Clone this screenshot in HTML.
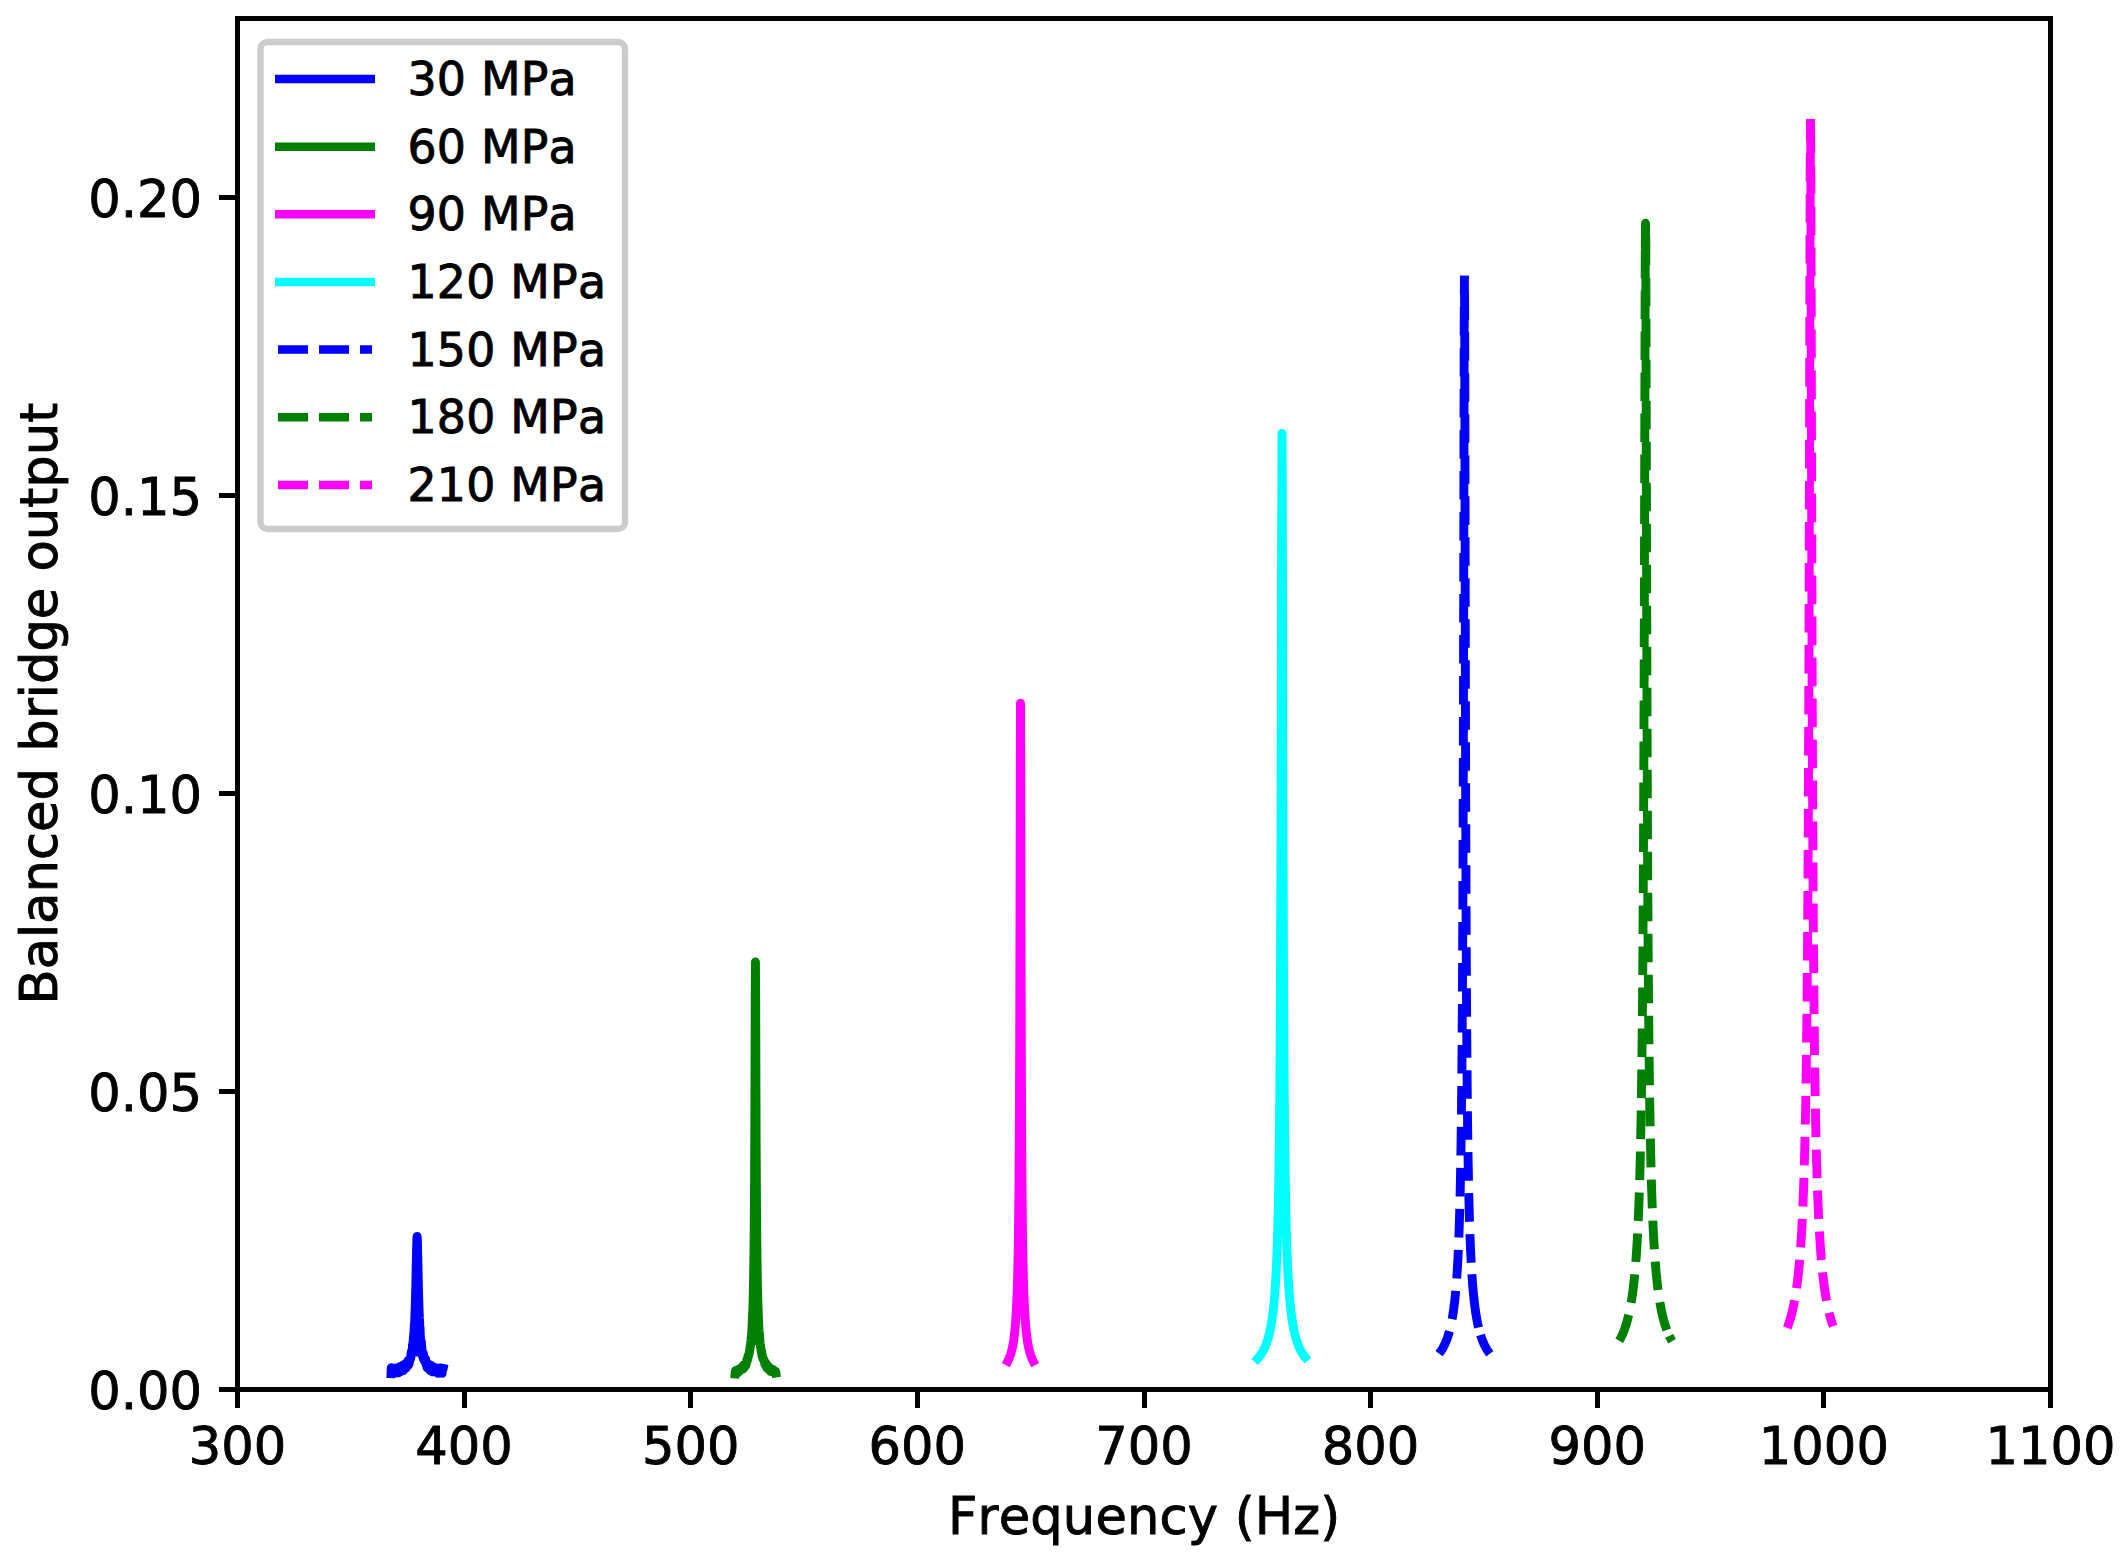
<!DOCTYPE html>
<html lang="en"><head><meta charset="utf-8"><title>Balanced bridge output vs frequency</title>
<style>html,body{margin:0;padding:0;background:#fff;}svg{display:block;}text{font-family:"DejaVu Sans", "Liberation Sans", sans-serif;fill:#000;font-kerning:none;font-variant-ligatures:none;stroke:#000;stroke-width:0.9px;}</style></head><body>
<svg width="2125" height="1561" viewBox="0 0 2125 1561">
<rect x="0" y="0" width="2125" height="1561" fill="#ffffff"/>
<g fill="none" stroke-width="8.90" stroke-linejoin="round">
<path d="M391.04,1373.69 L391.27,1367.78 L391.49,1367.98 L391.72,1371.25 L391.94,1370.97 L392.17,1373.13 L392.40,1369.98 L392.62,1370.34 L392.85,1370.07 L393.08,1371.65 L393.30,1371.17 L393.53,1373.54 L393.76,1369.27 L393.98,1371.84 L394.21,1368.96 L394.44,1368.17 L394.66,1372.18 L394.89,1368.12 L395.12,1372.15 L395.34,1368.69 L395.57,1373.13 L395.80,1371.67 L396.02,1368.56 L396.25,1372.65 L396.48,1369.71 L396.70,1368.53 L396.93,1368.12 L397.16,1369.67 L397.38,1368.30 L397.61,1369.63 L397.84,1372.43 L398.06,1368.15 L398.29,1372.50 L398.52,1372.67 L398.74,1372.40 L398.97,1369.63 L399.20,1370.13 L399.42,1370.28 L399.65,1371.96 L399.88,1366.43 L400.10,1369.61 L400.33,1370.18 L400.56,1367.41 L400.78,1368.85 L401.01,1367.61 L401.24,1367.79 L401.46,1369.29 L401.69,1367.70 L401.92,1368.90 L402.14,1369.61 L402.37,1366.13 L402.60,1365.25 L402.82,1368.21 L403.05,1370.68 L403.28,1369.32 L403.50,1370.32 L403.73,1365.04 L403.96,1364.88 L404.18,1364.31 L404.41,1365.28 L404.64,1368.18 L404.86,1364.87 L405.09,1364.59 L405.32,1365.98 L405.54,1368.23 L405.77,1365.67 L406.00,1368.12 L406.22,1367.97 L406.45,1366.61 L406.68,1362.46 L406.90,1366.23 L407.13,1362.73 L407.36,1364.10 L407.58,1363.22 L407.81,1360.92 L408.04,1365.24 L408.26,1360.24 L408.49,1364.89 L408.72,1361.90 L408.94,1361.33 L409.17,1363.51 L409.40,1362.14 L409.62,1360.93 L409.85,1360.22 L410.07,1358.81 L410.30,1358.66 L410.53,1358.06 L410.75,1358.63 L410.98,1353.42 L411.21,1354.29 L411.43,1351.39 L411.66,1352.00 L411.89,1350.51 L412.11,1352.94 L412.34,1347.27 L412.57,1344.45 L412.79,1344.72 L413.02,1343.13 L413.25,1339.62 L413.47,1337.86 L413.70,1333.90 L413.93,1336.98 L414.15,1328.49 L414.38,1323.47 L414.61,1323.38 L414.83,1317.26 L415.06,1311.50 L415.29,1304.86 L415.51,1297.20 L415.74,1288.44 L415.97,1278.55 L416.19,1267.76 L416.42,1256.68 L416.65,1246.55 L416.87,1239.20 L417.10,1236.48 L417.33,1239.20 L417.55,1246.55 L417.78,1256.68 L418.01,1267.76 L418.23,1278.55 L418.46,1288.44 L418.69,1297.20 L418.91,1304.86 L419.14,1311.50 L419.37,1317.26 L419.59,1320.71 L419.82,1327.23 L420.05,1327.60 L420.27,1334.13 L420.50,1339.62 L420.73,1340.32 L420.95,1342.28 L421.18,1341.12 L421.41,1342.70 L421.63,1347.17 L421.86,1347.41 L422.09,1351.44 L422.31,1351.18 L422.54,1356.11 L422.77,1357.06 L422.99,1354.71 L423.22,1358.56 L423.45,1353.62 L423.67,1358.05 L423.90,1356.45 L424.13,1358.16 L424.35,1360.60 L424.58,1361.03 L424.81,1360.35 L425.03,1359.92 L425.26,1360.84 L425.49,1362.65 L425.71,1359.49 L425.94,1364.27 L426.17,1361.59 L426.39,1365.36 L426.62,1364.66 L426.85,1366.98 L427.07,1365.19 L427.30,1367.94 L427.53,1363.74 L427.75,1368.31 L427.98,1363.62 L428.20,1367.92 L428.43,1367.19 L428.66,1365.98 L428.88,1366.97 L429.11,1364.78 L429.34,1369.35 L429.56,1369.36 L429.79,1369.07 L430.02,1367.39 L430.24,1370.63 L430.47,1367.40 L430.70,1365.87 L430.92,1370.51 L431.15,1365.35 L431.38,1366.11 L431.60,1366.21 L431.83,1371.40 L432.06,1366.70 L432.28,1368.35 L432.51,1370.16 L432.74,1371.92 L432.96,1368.13 L433.19,1368.06 L433.42,1370.19 L433.64,1368.35 L433.87,1371.90 L434.10,1367.41 L434.32,1368.85 L434.55,1368.72 L434.78,1368.30 L435.00,1368.46 L435.23,1367.55 L435.46,1370.13 L435.68,1368.38 L435.91,1368.50 L436.14,1368.51 L436.36,1368.52 L436.59,1369.53 L436.82,1371.89 L437.04,1370.22 L437.27,1368.11 L437.50,1372.54 L437.72,1369.73 L437.95,1373.32 L438.18,1369.48 L438.40,1373.25 L438.63,1372.97 L438.86,1370.06 L439.08,1368.26 L439.31,1368.98 L439.54,1373.01 L439.76,1372.86 L439.99,1370.20 L440.22,1370.54 L440.44,1370.94 L440.67,1370.23 L440.90,1368.61 L441.12,1371.88 L441.35,1372.85 L441.58,1370.61 L441.80,1372.20 L442.03,1373.30 L442.26,1370.41 L442.48,1368.52 L442.71,1368.87 L442.94,1369.58 L443.16,1368.51" stroke="#0000ff" stroke-linecap="square"/>
<line x1="417.10" y1="1335.0" x2="417.10" y2="1356.5" stroke="#0000ff" stroke-width="5.0"/>
<path d="M735.06,1374.01 L735.28,1371.51 L735.51,1372.81 L735.74,1370.33 L735.96,1372.11 L736.19,1372.57 L736.41,1373.35 L736.64,1370.99 L736.87,1371.41 L737.09,1372.89 L737.32,1371.81 L737.55,1370.70 L737.77,1372.60 L738.00,1370.71 L738.23,1369.53 L738.45,1371.99 L738.68,1370.22 L738.91,1369.30 L739.13,1370.96 L739.36,1371.53 L739.59,1370.89 L739.81,1370.51 L740.04,1370.23 L740.27,1369.89 L740.49,1369.76 L740.72,1368.06 L740.95,1368.55 L741.17,1367.82 L741.40,1368.87 L741.63,1367.25 L741.85,1369.13 L742.08,1367.91 L742.31,1367.51 L742.53,1368.90 L742.76,1366.57 L742.99,1369.07 L743.21,1368.20 L743.44,1367.62 L743.67,1365.94 L743.89,1364.77 L744.12,1367.13 L744.35,1366.72 L744.57,1367.24 L744.80,1364.32 L745.03,1364.95 L745.25,1363.58 L745.48,1364.45 L745.71,1365.47 L745.93,1363.69 L746.16,1362.64 L746.39,1363.37 L746.61,1362.41 L746.84,1359.77 L747.07,1359.21 L747.29,1360.49 L747.52,1359.97 L747.75,1358.54 L747.97,1356.16 L748.20,1357.29 L748.43,1355.36 L748.65,1355.46 L748.88,1354.35 L749.11,1354.22 L749.33,1351.84 L749.56,1352.01 L749.79,1348.68 L750.01,1348.63 L750.24,1345.57 L750.47,1345.68 L750.69,1342.37 L750.92,1340.90 L751.15,1337.39 L751.37,1336.42 L751.60,1334.31 L751.83,1330.54 L752.05,1327.42 L752.28,1320.81 L752.51,1316.25 L752.73,1311.82 L752.96,1306.26 L753.19,1296.67 L753.41,1287.11 L753.64,1275.36 L753.87,1260.64 L754.09,1241.75 L754.32,1216.85 L754.54,1183.10 L754.77,1136.42 L755.00,1073.00 L755.22,1000.23 L755.45,961.95 L755.68,1000.23 L755.90,1073.00 L756.13,1136.42 L756.36,1183.10 L756.58,1216.85 L756.81,1241.75 L757.04,1260.64 L757.26,1275.36 L757.49,1287.11 L757.72,1296.67 L757.94,1304.22 L758.17,1310.13 L758.40,1317.31 L758.62,1322.66 L758.85,1326.72 L759.08,1331.08 L759.30,1333.32 L759.53,1335.78 L759.76,1339.31 L759.98,1342.12 L760.21,1344.07 L760.44,1345.56 L760.66,1346.68 L760.89,1348.88 L761.12,1351.26 L761.34,1350.57 L761.57,1350.86 L761.80,1355.05 L762.02,1356.15 L762.25,1354.81 L762.48,1356.13 L762.70,1357.69 L762.93,1358.61 L763.16,1358.97 L763.38,1359.45 L763.61,1359.09 L763.84,1360.18 L764.06,1360.40 L764.29,1360.52 L764.52,1362.14 L764.74,1364.06 L764.97,1363.82 L765.20,1363.19 L765.42,1362.62 L765.65,1362.89 L765.88,1366.10 L766.10,1363.77 L766.33,1364.76 L766.56,1366.61 L766.78,1367.83 L767.01,1366.87 L767.24,1365.17 L767.46,1366.56 L767.69,1368.71 L767.92,1368.42 L768.14,1367.68 L768.37,1367.60 L768.60,1369.06 L768.82,1367.04 L769.05,1369.26 L769.28,1368.16 L769.50,1367.85 L769.73,1368.51 L769.96,1368.98 L770.18,1371.14 L770.41,1368.97 L770.64,1370.26 L770.86,1371.55 L771.09,1368.92 L771.32,1368.82 L771.54,1369.10 L771.77,1371.68 L772.00,1369.89 L772.22,1369.07 L772.45,1370.84 L772.67,1369.75 L772.90,1371.96 L773.13,1369.75 L773.35,1371.32 L773.58,1370.73 L773.81,1370.89 L774.03,1372.38 L774.26,1370.84 L774.49,1371.17 L774.71,1373.23 L774.94,1372.86 L775.17,1372.62 L775.39,1372.08 L775.62,1371.19 L775.85,1372.89" stroke="#008000" stroke-linecap="square"/>
<line x1="755.45" y1="1335.0" x2="755.45" y2="1345.0" stroke="#008000" stroke-width="3.0"/>
<path d="M1007.80,1361.16 L1008.02,1360.73 L1008.25,1360.29 L1008.48,1359.83 L1008.70,1359.35 L1008.93,1358.85 L1009.16,1358.33 L1009.38,1357.79 L1009.61,1357.22 L1009.84,1356.63 L1010.06,1356.01 L1010.29,1355.36 L1010.52,1354.68 L1010.74,1353.97 L1010.97,1353.22 L1011.20,1352.43 L1011.42,1351.60 L1011.65,1350.72 L1011.88,1349.80 L1012.10,1348.83 L1012.33,1347.80 L1012.56,1346.71 L1012.78,1345.55 L1013.01,1344.32 L1013.24,1343.01 L1013.46,1341.61 L1013.69,1340.12 L1013.92,1338.52 L1014.14,1336.81 L1014.37,1334.97 L1014.60,1332.98 L1014.82,1330.83 L1015.05,1328.51 L1015.28,1325.97 L1015.50,1323.21 L1015.73,1320.18 L1015.96,1316.85 L1016.18,1313.18 L1016.41,1309.09 L1016.64,1304.53 L1016.86,1299.41 L1017.09,1293.61 L1017.32,1287.01 L1017.54,1279.42 L1017.77,1270.61 L1018.00,1260.26 L1018.22,1247.96 L1018.45,1233.11 L1018.68,1214.86 L1018.90,1191.95 L1019.13,1162.49 L1019.36,1123.50 L1019.58,1070.29 L1019.81,995.79 L1020.04,892.43 L1020.26,769.81 L1020.49,703.16 L1020.72,769.81 L1020.94,892.43 L1021.17,995.79 L1021.40,1070.29 L1021.62,1123.50 L1021.85,1162.49 L1022.08,1191.95 L1022.30,1214.86 L1022.53,1233.11 L1022.76,1247.96 L1022.98,1260.26 L1023.21,1270.61 L1023.44,1279.42 L1023.66,1287.01 L1023.89,1293.61 L1024.12,1299.41 L1024.34,1304.53 L1024.57,1309.09 L1024.80,1313.18 L1025.02,1316.85 L1025.25,1320.18 L1025.48,1323.21 L1025.70,1325.97 L1025.93,1328.51 L1026.15,1330.83 L1026.38,1332.98 L1026.61,1334.97 L1026.83,1336.81 L1027.06,1338.52 L1027.29,1340.12 L1027.51,1341.61 L1027.74,1343.01 L1027.97,1344.32 L1028.19,1345.55 L1028.42,1346.71 L1028.65,1347.80 L1028.87,1348.83 L1029.10,1349.80 L1029.33,1350.72 L1029.55,1351.60 L1029.78,1352.43 L1030.01,1353.22 L1030.23,1353.97 L1030.46,1354.68 L1030.69,1355.36 L1030.91,1356.01 L1031.14,1356.63 L1031.37,1357.22 L1031.59,1357.79 L1031.82,1358.33 L1032.05,1358.85 L1032.27,1359.35 L1032.50,1359.83 L1032.73,1360.29 L1032.95,1360.73 L1033.18,1361.16" stroke="#ff00ff" stroke-linecap="square"/>
<path d="M1257.54,1358.78 L1257.77,1358.53 L1257.99,1358.29 L1258.22,1358.03 L1258.45,1357.77 L1258.67,1357.51 L1258.90,1357.24 L1259.13,1356.96 L1259.35,1356.68 L1259.58,1356.39 L1259.81,1356.10 L1260.03,1355.80 L1260.26,1355.49 L1260.49,1355.18 L1260.71,1354.86 L1260.94,1354.53 L1261.17,1354.19 L1261.39,1353.85 L1261.62,1353.50 L1261.85,1353.14 L1262.07,1352.77 L1262.30,1352.39 L1262.52,1352.01 L1262.75,1351.61 L1262.98,1351.20 L1263.20,1350.79 L1263.43,1350.36 L1263.66,1349.92 L1263.88,1349.47 L1264.11,1349.01 L1264.34,1348.54 L1264.56,1348.05 L1264.79,1347.55 L1265.02,1347.04 L1265.24,1346.51 L1265.47,1345.97 L1265.70,1345.41 L1265.92,1344.83 L1266.15,1344.24 L1266.38,1343.63 L1266.60,1343.01 L1266.83,1342.36 L1267.06,1341.69 L1267.28,1341.00 L1267.51,1340.29 L1267.74,1339.56 L1267.96,1338.80 L1268.19,1338.02 L1268.42,1337.21 L1268.64,1336.37 L1268.87,1335.50 L1269.10,1334.60 L1269.32,1333.67 L1269.55,1332.70 L1269.78,1331.70 L1270.00,1330.66 L1270.23,1329.58 L1270.46,1328.46 L1270.68,1327.29 L1270.91,1326.07 L1271.14,1324.80 L1271.36,1323.47 L1271.59,1322.09 L1271.82,1320.65 L1272.04,1319.14 L1272.27,1317.55 L1272.50,1315.90 L1272.72,1314.16 L1272.95,1312.33 L1273.18,1310.41 L1273.40,1308.39 L1273.63,1306.26 L1273.86,1304.02 L1274.08,1301.64 L1274.31,1299.13 L1274.54,1296.46 L1274.76,1293.63 L1274.99,1290.61 L1275.22,1287.40 L1275.44,1283.97 L1275.67,1280.29 L1275.90,1276.35 L1276.12,1272.11 L1276.35,1267.53 L1276.58,1262.58 L1276.80,1257.22 L1277.03,1251.37 L1277.26,1244.99 L1277.48,1237.98 L1277.71,1230.27 L1277.94,1221.74 L1278.16,1212.24 L1278.39,1201.63 L1278.62,1189.68 L1278.84,1176.14 L1279.07,1160.68 L1279.30,1142.88 L1279.52,1122.18 L1279.75,1097.88 L1279.97,1068.99 L1280.20,1034.23 L1280.43,991.84 L1280.65,939.44 L1280.88,874.00 L1281.11,792.15 L1281.33,691.93 L1281.56,578.69 L1281.79,476.90 L1282.01,433.38 L1282.24,476.90 L1282.47,578.69 L1282.69,691.93 L1282.92,792.15 L1283.15,874.00 L1283.37,939.44 L1283.60,991.84 L1283.83,1034.23 L1284.05,1068.99 L1284.28,1097.88 L1284.51,1122.18 L1284.73,1142.88 L1284.96,1160.68 L1285.19,1176.14 L1285.41,1189.68 L1285.64,1201.63 L1285.87,1212.24 L1286.09,1221.74 L1286.32,1230.27 L1286.55,1237.98 L1286.77,1244.99 L1287.00,1251.37 L1287.23,1257.22 L1287.45,1262.58 L1287.68,1267.53 L1287.91,1272.11 L1288.13,1276.35 L1288.36,1280.29 L1288.59,1283.97 L1288.81,1287.40 L1289.04,1290.61 L1289.27,1293.63 L1289.49,1296.46 L1289.72,1299.13 L1289.95,1301.64 L1290.17,1304.02 L1290.40,1306.26 L1290.63,1308.39 L1290.85,1310.41 L1291.08,1312.33 L1291.31,1314.16 L1291.53,1315.90 L1291.76,1317.55 L1291.99,1319.14 L1292.21,1320.65 L1292.44,1322.09 L1292.67,1323.47 L1292.89,1324.80 L1293.12,1326.07 L1293.35,1327.29 L1293.57,1328.46 L1293.80,1329.58 L1294.03,1330.66 L1294.25,1331.70 L1294.48,1332.70 L1294.71,1333.67 L1294.93,1334.60 L1295.16,1335.50 L1295.39,1336.37 L1295.61,1337.21 L1295.84,1338.02 L1296.07,1338.80 L1296.29,1339.56 L1296.52,1340.29 L1296.75,1341.00 L1296.97,1341.69 L1297.20,1342.36 L1297.43,1343.01 L1297.65,1343.63 L1297.88,1344.24 L1298.11,1344.83 L1298.33,1345.41 L1298.56,1345.97 L1298.78,1346.51 L1299.01,1347.04 L1299.24,1347.55 L1299.46,1348.05 L1299.69,1348.54 L1299.92,1349.01 L1300.14,1349.47 L1300.37,1349.92 L1300.60,1350.36 L1300.82,1350.79 L1301.05,1351.20 L1301.28,1351.61 L1301.50,1352.01 L1301.73,1352.39 L1301.96,1352.77 L1302.18,1353.14 L1302.41,1353.50 L1302.64,1353.85 L1302.86,1354.19 L1303.09,1354.53 L1303.32,1354.86 L1303.54,1355.18 L1303.77,1355.49 L1304.00,1355.80 L1304.22,1356.10 L1304.45,1356.39 L1304.68,1356.68 L1304.90,1356.96 L1305.13,1357.24" stroke="#00ffff" stroke-linecap="square"/>
<path d="M1439.07,1353.67 L1439.29,1353.38 L1439.52,1353.09 L1439.75,1352.79 L1439.97,1352.49 L1440.20,1352.18 L1440.43,1351.86 L1440.65,1351.54 L1440.88,1351.21 L1441.11,1350.87 L1441.33,1350.53 L1441.56,1350.18 L1441.79,1349.83 L1442.01,1349.46 L1442.24,1349.09 L1442.47,1348.71 L1442.69,1348.32 L1442.92,1347.92 L1443.14,1347.52 L1443.37,1347.10 L1443.60,1346.68 L1443.82,1346.25 L1444.05,1345.80 L1444.28,1345.35 L1444.50,1344.88 L1444.73,1344.41 L1444.96,1343.92 L1445.18,1343.42 L1445.41,1342.91 L1445.64,1342.39 L1445.86,1341.85 L1446.09,1341.30 L1446.32,1340.73 L1446.54,1340.15 L1446.77,1339.56 L1447.00,1338.95 L1447.22,1338.32 L1447.45,1337.68 L1447.68,1337.02 L1447.90,1336.34 L1448.13,1335.64 L1448.36,1334.92 L1448.58,1334.17 L1448.81,1333.41 L1449.04,1332.63 L1449.26,1331.82 L1449.49,1330.98 L1449.72,1330.12 L1449.94,1329.23 L1450.17,1328.31 L1450.40,1327.37 L1450.62,1326.39 L1450.85,1325.38 L1451.08,1324.33 L1451.30,1323.25 L1451.53,1322.13 L1451.76,1320.97 L1451.98,1319.76 L1452.21,1318.51 L1452.44,1317.22 L1452.66,1315.87 L1452.89,1314.47 L1453.12,1313.01 L1453.34,1311.50 L1453.57,1309.92 L1453.80,1308.27 L1454.02,1306.55 L1454.25,1304.76 L1454.48,1302.88 L1454.70,1300.91 L1454.93,1298.86 L1455.16,1296.70 L1455.38,1294.43 L1455.61,1292.05 L1455.84,1289.54 L1456.06,1286.90 L1456.29,1284.11 L1456.52,1281.17 L1456.74,1278.05 L1456.97,1274.75 L1457.20,1271.24 L1457.42,1267.50 L1457.65,1263.53 L1457.88,1259.28 L1458.10,1254.73 L1458.33,1249.85 L1458.56,1244.61 L1458.78,1238.96 L1459.01,1232.84 L1459.24,1226.21 L1459.46,1219.00 L1459.69,1211.12 L1459.92,1202.48 L1460.14,1192.97 L1460.37,1182.46 L1460.60,1170.77 L1460.82,1157.72 L1461.05,1143.03 L1461.27,1126.42 L1461.50,1107.47 L1461.73,1085.69 L1461.95,1060.42 L1462.18,1030.82 L1462.41,995.76 L1462.63,953.75 L1462.86,902.81 L1463.09,840.34 L1463.31,763.18 L1463.54,668.16 L1463.77,554.38 L1463.99,429.55 L1464.22,321.06 L1464.45,275.81" stroke="#0000ff" stroke-dasharray="28.6 12.4" stroke-dashoffset="3.75" stroke-linecap="butt"/>
<path d="M1489.83,1353.67 L1489.60,1353.38 L1489.38,1353.09 L1489.15,1352.79 L1488.92,1352.49 L1488.70,1352.18 L1488.47,1351.86 L1488.24,1351.54 L1488.02,1351.21 L1487.79,1350.87 L1487.56,1350.53 L1487.34,1350.18 L1487.11,1349.83 L1486.88,1349.46 L1486.66,1349.09 L1486.43,1348.71 L1486.20,1348.32 L1485.98,1347.92 L1485.75,1347.52 L1485.52,1347.10 L1485.30,1346.68 L1485.07,1346.25 L1484.84,1345.80 L1484.62,1345.35 L1484.39,1344.88 L1484.16,1344.41 L1483.94,1343.92 L1483.71,1343.42 L1483.48,1342.91 L1483.26,1342.39 L1483.03,1341.85 L1482.80,1341.30 L1482.58,1340.73 L1482.35,1340.15 L1482.12,1339.56 L1481.90,1338.95 L1481.67,1338.32 L1481.44,1337.68 L1481.22,1337.02 L1480.99,1336.34 L1480.76,1335.64 L1480.54,1334.92 L1480.31,1334.17 L1480.08,1333.41 L1479.86,1332.63 L1479.63,1331.82 L1479.40,1330.98 L1479.18,1330.12 L1478.95,1329.23 L1478.73,1328.31 L1478.50,1327.37 L1478.27,1326.39 L1478.05,1325.38 L1477.82,1324.33 L1477.59,1323.25 L1477.37,1322.13 L1477.14,1320.97 L1476.91,1319.76 L1476.69,1318.51 L1476.46,1317.22 L1476.23,1315.87 L1476.01,1314.47 L1475.78,1313.01 L1475.55,1311.50 L1475.33,1309.92 L1475.10,1308.27 L1474.87,1306.55 L1474.65,1304.76 L1474.42,1302.88 L1474.19,1300.91 L1473.97,1298.86 L1473.74,1296.70 L1473.51,1294.43 L1473.29,1292.05 L1473.06,1289.54 L1472.83,1286.90 L1472.61,1284.11 L1472.38,1281.17 L1472.15,1278.05 L1471.93,1274.75 L1471.70,1271.24 L1471.47,1267.50 L1471.25,1263.53 L1471.02,1259.28 L1470.79,1254.73 L1470.57,1249.85 L1470.34,1244.61 L1470.11,1238.96 L1469.89,1232.84 L1469.66,1226.21 L1469.43,1219.00 L1469.21,1211.12 L1468.98,1202.48 L1468.75,1192.97 L1468.53,1182.46 L1468.30,1170.77 L1468.07,1157.72 L1467.85,1143.03 L1467.62,1126.42 L1467.39,1107.47 L1467.17,1085.69 L1466.94,1060.42 L1466.71,1030.82 L1466.49,995.76 L1466.26,953.75 L1466.03,902.81 L1465.81,840.34 L1465.58,763.18 L1465.35,668.16 L1465.13,554.38 L1464.90,429.55 L1464.67,321.06 L1464.45,275.81" stroke="#0000ff" stroke-dasharray="21.0 7.8 53.6 11.6 28.6 12.4 28.6 12.4 28.6 12.4 28.6 12.4 28.6 12.4 28.6 12.4 28.6 12.4 28.6 12.4 28.6 12.4 28.6 12.4 28.6 12.4 28.6 12.4 28.6 12.4 28.6 12.4 28.6 12.4 28.6 12.4 28.6 12.4 28.6 12.4 28.6 12.4 28.6 12.4 28.6 12.4 28.6 12.4 28.6 12.4 28.6 12.4 28.6 12.4 28.6 12.4 28.6 12.4 28.6 12.4 28.6 12.4 28.6 12.4 28.6 12.4 28.6 12.4 28.6 12.4 28.6 12.4 28.6 12.4 28.6 12.4 28.6 12.4 28.6 12.4 28.6 12.4 28.6 12.4" stroke-linecap="butt"/>
<path d="M1645.29,248.84 L1645.52,223.31 L1645.75,248.84" stroke="#008000" stroke-linecap="butt"/>
<path d="M1619.23,1340.81 L1619.46,1340.41 L1619.69,1340.01 L1619.91,1339.59 L1620.14,1339.18 L1620.37,1338.75 L1620.59,1338.31 L1620.82,1337.87 L1621.05,1337.42 L1621.27,1336.96 L1621.50,1336.49 L1621.73,1336.01 L1621.95,1335.52 L1622.18,1335.02 L1622.41,1334.52 L1622.63,1334.00 L1622.86,1333.47 L1623.09,1332.93 L1623.31,1332.38 L1623.54,1331.82 L1623.77,1331.24 L1623.99,1330.66 L1624.22,1330.06 L1624.44,1329.45 L1624.67,1328.82 L1624.90,1328.18 L1625.12,1327.53 L1625.35,1326.86 L1625.58,1326.17 L1625.80,1325.47 L1626.03,1324.76 L1626.26,1324.02 L1626.48,1323.27 L1626.71,1322.50 L1626.94,1321.71 L1627.16,1320.91 L1627.39,1320.08 L1627.62,1319.23 L1627.84,1318.35 L1628.07,1317.46 L1628.30,1316.54 L1628.52,1315.60 L1628.75,1314.63 L1628.98,1313.63 L1629.20,1312.61 L1629.43,1311.56 L1629.66,1310.47 L1629.88,1309.36 L1630.11,1308.21 L1630.34,1307.03 L1630.56,1305.81 L1630.79,1304.56 L1631.02,1303.26 L1631.24,1301.93 L1631.47,1300.55 L1631.70,1299.13 L1631.92,1297.66 L1632.15,1296.13 L1632.38,1294.56 L1632.60,1292.93 L1632.83,1291.25 L1633.06,1289.50 L1633.28,1287.69 L1633.51,1285.80 L1633.74,1283.85 L1633.96,1281.82 L1634.19,1279.72 L1634.42,1277.52 L1634.64,1275.24 L1634.87,1272.85 L1635.10,1270.37 L1635.32,1267.78 L1635.55,1265.07 L1635.78,1262.23 L1636.00,1259.27 L1636.23,1256.16 L1636.46,1252.89 L1636.68,1249.47 L1636.91,1245.86 L1637.14,1242.07 L1637.36,1238.07 L1637.59,1233.84 L1637.82,1229.37 L1638.04,1224.64 L1638.27,1219.62 L1638.50,1214.29 L1638.72,1208.61 L1638.95,1202.56 L1639.18,1196.09 L1639.40,1189.16 L1639.63,1181.72 L1639.86,1173.71 L1640.08,1165.07 L1640.31,1155.72 L1640.54,1145.58 L1640.76,1134.53 L1640.99,1122.46 L1641.22,1109.22 L1641.44,1094.65 L1641.67,1078.53 L1641.90,1060.62 L1642.12,1040.62 L1642.35,1018.18 L1642.57,992.84 L1642.80,964.05 L1643.03,931.16 L1643.25,893.33 L1643.48,849.56 L1643.71,798.68 L1643.93,739.35 L1644.16,670.29 L1644.39,590.71 L1644.61,501.36 L1644.84,406.47 L1645.07,316.41 L1645.29,248.84 L1645.52,223.31" stroke="#008000" stroke-dasharray="28.6 12.4" stroke-dashoffset="0.90" stroke-linecap="butt"/>
<path d="M1672.04,1341.20 L1671.81,1340.81 L1671.58,1340.41 L1671.36,1340.01 L1671.13,1339.59 L1670.90,1339.18 L1670.68,1338.75 L1670.45,1338.31 L1670.22,1337.87 L1670.00,1337.42 L1669.77,1336.96 L1669.54,1336.49 L1669.32,1336.01 L1669.09,1335.52 L1668.86,1335.02 L1668.64,1334.52 L1668.41,1334.00 L1668.18,1333.47 L1667.96,1332.93 L1667.73,1332.38 L1667.50,1331.82 L1667.28,1331.24 L1667.05,1330.66 L1666.82,1330.06 L1666.60,1329.45 L1666.37,1328.82 L1666.14,1328.18 L1665.92,1327.53 L1665.69,1326.86 L1665.46,1326.17 L1665.24,1325.47 L1665.01,1324.76 L1664.78,1324.02 L1664.56,1323.27 L1664.33,1322.50 L1664.10,1321.71 L1663.88,1320.91 L1663.65,1320.08 L1663.42,1319.23 L1663.20,1318.35 L1662.97,1317.46 L1662.74,1316.54 L1662.52,1315.60 L1662.29,1314.63 L1662.06,1313.63 L1661.84,1312.61 L1661.61,1311.56 L1661.38,1310.47 L1661.16,1309.36 L1660.93,1308.21 L1660.70,1307.03 L1660.48,1305.81 L1660.25,1304.56 L1660.03,1303.26 L1659.80,1301.93 L1659.57,1300.55 L1659.35,1299.13 L1659.12,1297.66 L1658.89,1296.13 L1658.67,1294.56 L1658.44,1292.93 L1658.21,1291.25 L1657.99,1289.50 L1657.76,1287.69 L1657.53,1285.80 L1657.31,1283.85 L1657.08,1281.82 L1656.85,1279.72 L1656.63,1277.52 L1656.40,1275.24 L1656.17,1272.85 L1655.95,1270.37 L1655.72,1267.78 L1655.49,1265.07 L1655.27,1262.23 L1655.04,1259.27 L1654.81,1256.16 L1654.59,1252.89 L1654.36,1249.47 L1654.13,1245.86 L1653.91,1242.07 L1653.68,1238.07 L1653.45,1233.84 L1653.23,1229.37 L1653.00,1224.64 L1652.77,1219.62 L1652.55,1214.29 L1652.32,1208.61 L1652.09,1202.56 L1651.87,1196.09 L1651.64,1189.16 L1651.41,1181.72 L1651.19,1173.71 L1650.96,1165.07 L1650.73,1155.72 L1650.51,1145.58 L1650.28,1134.53 L1650.05,1122.46 L1649.83,1109.22 L1649.60,1094.65 L1649.37,1078.53 L1649.15,1060.62 L1648.92,1040.62 L1648.69,1018.18 L1648.47,992.84 L1648.24,964.05 L1648.01,931.16 L1647.79,893.33 L1647.56,849.56 L1647.33,798.68 L1647.11,739.35 L1646.88,670.29 L1646.65,590.71 L1646.43,501.36 L1646.20,406.47 L1645.97,316.41 L1645.75,248.84 L1645.52,223.31" stroke="#008000" stroke-dasharray="6.0 6.4 28.6 12.4 28.6 12.4 28.6 12.4 28.6 12.4 28.6 12.4 28.6 12.4 28.6 12.4 28.6 12.4 28.6 12.4 28.6 12.4 28.6 12.4 28.6 12.4 28.6 12.4 28.6 12.4 28.6 12.4 28.6 12.4 28.6 12.4 28.6 12.4 28.6 12.4 28.6 12.4 28.6 12.4 28.6 12.4 28.6 12.4 28.6 12.4 28.6 12.4 28.6 12.4 28.6 12.4 28.6 12.4 28.6 12.4 28.6 12.4 28.6 12.4 28.6 12.4 28.6 12.4 28.6 12.4 28.6 12.4 28.6 12.4 28.6 12.4 28.6 12.4 28.6 12.4 28.6 12.4" stroke-linecap="butt"/>
<path d="M1787.16,1327.96 L1787.39,1327.38 L1787.62,1326.79 L1787.84,1326.19 L1788.07,1325.57 L1788.29,1324.94 L1788.52,1324.30 L1788.75,1323.65 L1788.97,1322.98 L1789.20,1322.30 L1789.43,1321.60 L1789.65,1320.88 L1789.88,1320.16 L1790.11,1319.41 L1790.33,1318.65 L1790.56,1317.87 L1790.79,1317.07 L1791.01,1316.25 L1791.24,1315.42 L1791.47,1314.56 L1791.69,1313.68 L1791.92,1312.78 L1792.15,1311.86 L1792.37,1310.92 L1792.60,1309.95 L1792.83,1308.96 L1793.05,1307.94 L1793.28,1306.89 L1793.51,1305.82 L1793.73,1304.71 L1793.96,1303.58 L1794.19,1302.42 L1794.41,1301.22 L1794.64,1299.99 L1794.87,1298.72 L1795.09,1297.41 L1795.32,1296.07 L1795.55,1294.68 L1795.77,1293.25 L1796.00,1291.78 L1796.23,1290.26 L1796.45,1288.69 L1796.68,1287.08 L1796.91,1285.40 L1797.13,1283.67 L1797.36,1281.88 L1797.59,1280.03 L1797.81,1278.12 L1798.04,1276.13 L1798.27,1274.07 L1798.49,1271.93 L1798.72,1269.71 L1798.95,1267.41 L1799.17,1265.01 L1799.40,1262.52 L1799.63,1259.92 L1799.85,1257.22 L1800.08,1254.40 L1800.31,1251.45 L1800.53,1248.38 L1800.76,1245.16 L1800.99,1241.79 L1801.21,1238.26 L1801.44,1234.56 L1801.67,1230.67 L1801.89,1226.58 L1802.12,1222.28 L1802.35,1217.74 L1802.57,1212.95 L1802.80,1207.88 L1803.03,1202.52 L1803.25,1196.83 L1803.48,1190.78 L1803.71,1184.35 L1803.93,1177.50 L1804.16,1170.17 L1804.39,1162.32 L1804.61,1153.90 L1804.84,1144.84 L1805.07,1135.07 L1805.29,1124.50 L1805.52,1113.04 L1805.74,1100.56 L1805.97,1086.94 L1806.20,1072.00 L1806.42,1055.57 L1806.65,1037.42 L1806.88,1017.28 L1807.10,994.81 L1807.33,969.62 L1807.56,941.24 L1807.78,909.07 L1808.01,872.39 L1808.24,830.34 L1808.46,781.87 L1808.69,725.80 L1808.92,660.82 L1809.14,585.78 L1809.37,500.17 L1809.60,405.23 L1809.82,305.89 L1810.05,213.16 L1810.28,144.61 L1810.50,118.95" stroke="#ff00ff" stroke-dasharray="28.6 12.4" stroke-dashoffset="0.05" stroke-linecap="butt"/>
<path d="M1833.17,1326.19 L1832.94,1325.57 L1832.71,1324.94 L1832.49,1324.30 L1832.26,1323.65 L1832.03,1322.98 L1831.81,1322.30 L1831.58,1321.60 L1831.35,1320.88 L1831.13,1320.16 L1830.90,1319.41 L1830.67,1318.65 L1830.45,1317.87 L1830.22,1317.07 L1829.99,1316.25 L1829.77,1315.42 L1829.54,1314.56 L1829.31,1313.68 L1829.09,1312.78 L1828.86,1311.86 L1828.63,1310.92 L1828.41,1309.95 L1828.18,1308.96 L1827.95,1307.94 L1827.73,1306.89 L1827.50,1305.82 L1827.27,1304.71 L1827.05,1303.58 L1826.82,1302.42 L1826.59,1301.22 L1826.37,1299.99 L1826.14,1298.72 L1825.91,1297.41 L1825.69,1296.07 L1825.46,1294.68 L1825.23,1293.25 L1825.01,1291.78 L1824.78,1290.26 L1824.55,1288.69 L1824.33,1287.08 L1824.10,1285.40 L1823.88,1283.67 L1823.65,1281.88 L1823.42,1280.03 L1823.20,1278.12 L1822.97,1276.13 L1822.74,1274.07 L1822.52,1271.93 L1822.29,1269.71 L1822.06,1267.41 L1821.84,1265.01 L1821.61,1262.52 L1821.38,1259.92 L1821.16,1257.22 L1820.93,1254.40 L1820.70,1251.45 L1820.48,1248.38 L1820.25,1245.16 L1820.02,1241.79 L1819.80,1238.26 L1819.57,1234.56 L1819.34,1230.67 L1819.12,1226.58 L1818.89,1222.28 L1818.66,1217.74 L1818.44,1212.95 L1818.21,1207.88 L1817.98,1202.52 L1817.76,1196.83 L1817.53,1190.78 L1817.30,1184.35 L1817.08,1177.50 L1816.85,1170.17 L1816.62,1162.32 L1816.40,1153.90 L1816.17,1144.84 L1815.94,1135.07 L1815.72,1124.50 L1815.49,1113.04 L1815.26,1100.56 L1815.04,1086.94 L1814.81,1072.00 L1814.58,1055.57 L1814.36,1037.42 L1814.13,1017.28 L1813.90,994.81 L1813.68,969.62 L1813.45,941.24 L1813.22,909.07 L1813.00,872.39 L1812.77,830.34 L1812.54,781.87 L1812.32,725.80 L1812.09,660.82 L1811.86,585.78 L1811.64,500.17 L1811.41,405.23 L1811.18,305.89 L1810.96,213.16 L1810.73,144.61 L1810.50,118.95" stroke="#ff00ff" stroke-dasharray="28.6 12.4" stroke-dashoffset="14.59" stroke-linecap="butt"/>
</g>
<rect x="237.5" y="18.5" width="1813.0" height="1371.0" fill="none" stroke="#000" stroke-width="5"/>
<g stroke="#000" stroke-width="5">
<line x1="237.50" y1="1389.5" x2="237.50" y2="1408.0"/>
<line x1="464.50" y1="1389.5" x2="464.50" y2="1408.0"/>
<line x1="690.50" y1="1389.5" x2="690.50" y2="1408.0"/>
<line x1="917.50" y1="1389.5" x2="917.50" y2="1408.0"/>
<line x1="1144.50" y1="1389.5" x2="1144.50" y2="1408.0"/>
<line x1="1370.50" y1="1389.5" x2="1370.50" y2="1408.0"/>
<line x1="1597.50" y1="1389.5" x2="1597.50" y2="1408.0"/>
<line x1="1823.50" y1="1389.5" x2="1823.50" y2="1408.0"/>
<line x1="2050.50" y1="1389.5" x2="2050.50" y2="1408.0"/>
<line x1="219.0" y1="1389.5" x2="237.5" y2="1389.5"/>
<line x1="219.0" y1="1091.5" x2="237.5" y2="1091.5"/>
<line x1="219.0" y1="793.5" x2="237.5" y2="793.5"/>
<line x1="219.0" y1="495.5" x2="237.5" y2="495.5"/>
<line x1="219.0" y1="197.5" x2="237.5" y2="197.5"/>
</g>
<g font-size="51.10">
<text x="237.50" y="1464" text-anchor="middle">300</text>
<text x="464.12" y="1464" text-anchor="middle">400</text>
<text x="690.75" y="1464" text-anchor="middle">500</text>
<text x="917.38" y="1464" text-anchor="middle">600</text>
<text x="1144.00" y="1464" text-anchor="middle">700</text>
<text x="1370.62" y="1464" text-anchor="middle">800</text>
<text x="1597.25" y="1464" text-anchor="middle">900</text>
<text x="1823.88" y="1464" text-anchor="middle">1000</text>
<text x="2050.50" y="1464" text-anchor="middle">1100</text>
<text x="202" y="1409.2" text-anchor="end">0.00</text>
<text x="202" y="1111.2" text-anchor="end">0.05</text>
<text x="202" y="813.2" text-anchor="end">0.10</text>
<text x="202" y="515.2" text-anchor="end">0.15</text>
<text x="202" y="217.2" text-anchor="end">0.20</text>
<text x="1144.2" y="1534" text-anchor="middle" letter-spacing="0.17">Frequency (Hz)</text>
<text transform="translate(57,703.6) rotate(-90)" text-anchor="middle" letter-spacing="0.02">Balanced bridge output</text>
</g>
<rect x="260.5" y="42.0" width="364.5" height="487.0" rx="7" ry="7" fill="#ffffff" fill-opacity="0.8" stroke="#cccccc" stroke-width="6.4"/>
<g font-size="45.80" letter-spacing="0.25">
<line x1="275" y1="79.0" x2="375" y2="79.0" stroke="#0000ff" stroke-width="8.5"/>
<text x="407.4" y="95.0">30 MPa</text>
<line x1="275" y1="146.7" x2="375" y2="146.7" stroke="#008000" stroke-width="8.5"/>
<text x="407.4" y="162.7">60 MPa</text>
<line x1="275" y1="214.3" x2="375" y2="214.3" stroke="#ff00ff" stroke-width="8.5"/>
<text x="407.4" y="230.3">90 MPa</text>
<line x1="275" y1="282.0" x2="375" y2="282.0" stroke="#00ffff" stroke-width="8.5"/>
<text x="407.4" y="298.0">120 MPa</text>
<line x1="278" y1="349.6" x2="372" y2="349.6" stroke="#0000ff" stroke-width="8.5" stroke-dasharray="30 11"/>
<text x="407.4" y="365.6">150 MPa</text>
<line x1="278" y1="417.2" x2="372" y2="417.2" stroke="#008000" stroke-width="8.5" stroke-dasharray="30 11"/>
<text x="407.4" y="433.2">180 MPa</text>
<line x1="278" y1="484.9" x2="372" y2="484.9" stroke="#ff00ff" stroke-width="8.5" stroke-dasharray="30 11"/>
<text x="407.4" y="500.9">210 MPa</text>
</g>
</svg></body></html>
